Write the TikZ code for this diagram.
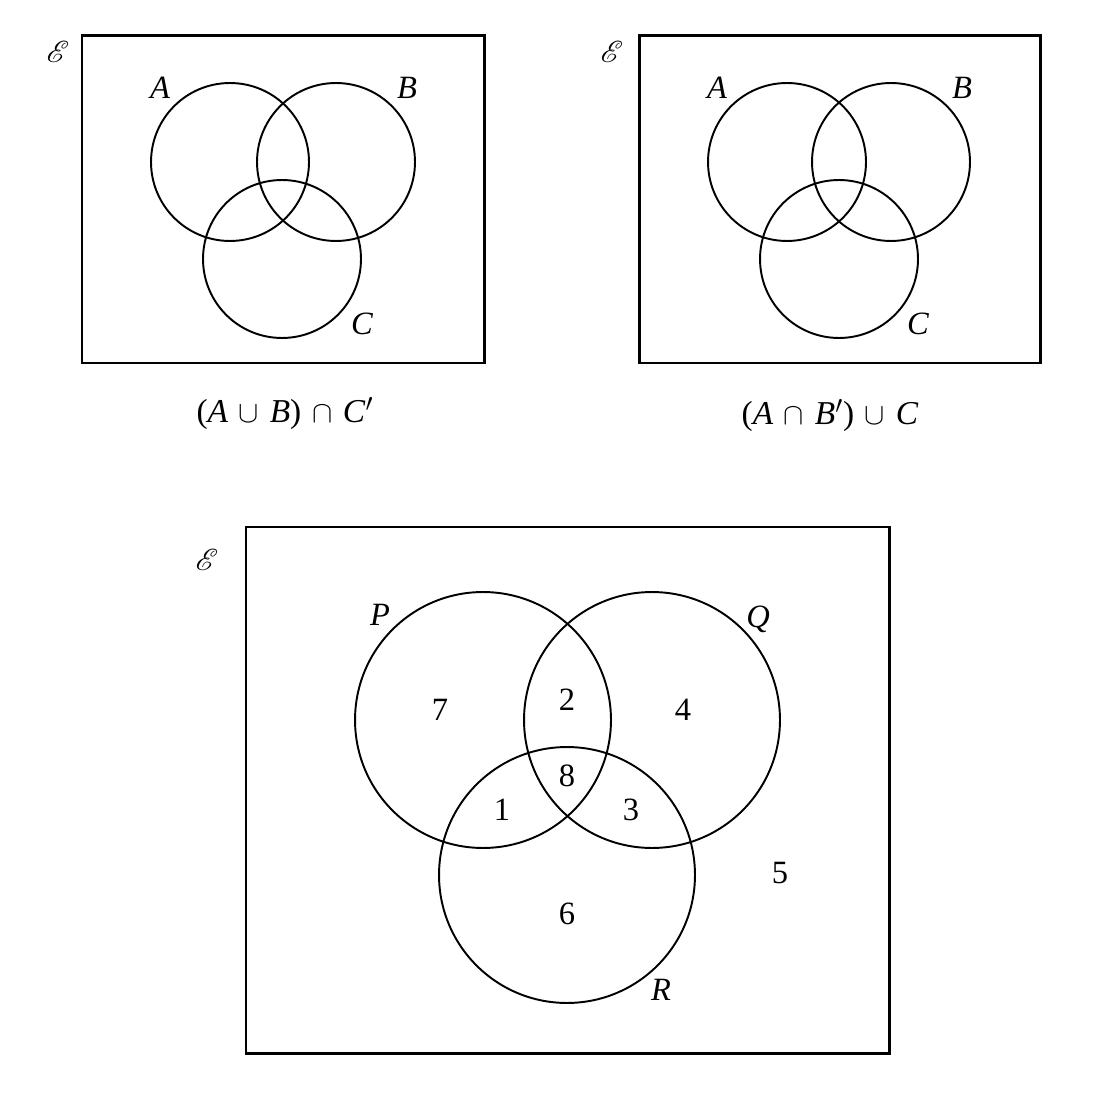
\documentclass[tikz,border=0pt]{standalone}
\usepackage{fontspec}
\usepackage{mathrsfs}
\setmainfont{Liberation Serif}
\usetikzlibrary{positioning}

\newcommand{\opgap}{\hspace{0.32em}}

\begin{document}
\begin{tikzpicture}[
	x=0.02cm, y=-0.02cm,
	frame/.style={
		draw=black,
		line width=1.7pt
	},
	setring/.style={
		draw=black,
		circle,
		line width=1.1pt,
		inner sep=0pt,
		minimum size=3.16cm
	},
	bigring/.style={
		setring,
		minimum size=5.12cm
	},
	setname/.style={
		font=\fontsize{18.5}{22}\selectfont\itshape,
		inner sep=0pt
	},
	region/.style={
		font=\fontsize{18.5}{22}\selectfont,
		inner sep=0pt
	},
	caption/.style={
		font=\fontsize{19}{22}\selectfont,
		inner sep=0pt
	},
	universe/.style={
		font=\fontsize{19}{22}\selectfont,
		inner sep=0pt
	}
]

\useasboundingbox (0,0) rectangle (1108,1097);

% first panel
\draw[frame] (82,36) rectangle (484,363);
\node[universe] (univL) at (58,52) {$\mathscr{E}$};
\node[setring] (ringAL) at (230,162) {};
\node[setring] (ringBL) at (336,162) {};
\node[setring] (ringCL) at (282,259) {};
\node[setname] (nameAL) at (160,88) {A};
\node[setname] (nameBL) at (407,88) {B};
\node[setname] (nameCL) at (362,324) {C};
\node[caption] (capL) at (285,414)
	{(\textit{A}\opgap$\cup$\opgap\textit{B})\opgap$\cap$\opgap\textit{C}$'$};

% second panel
\draw[frame] (639,36) rectangle (1040,363);
\node[universe] (univR) at (612,52) {$\mathscr{E}$};
\node[setring] (ringAR) at (787,162) {};
\node[setring] (ringBR) at (891,162) {};
\node[setring] (ringCR) at (839,259) {};
\node[setname] (nameAR) at (717,88) {A};
\node[setname] (nameBR) at (962,88) {B};
\node[setname] (nameCR) at (918,324) {C};
\node[caption] (capR) at (830,416)
	{(\textit{A}\opgap$\cap$\opgap\textit{B}$'$)\opgap$\cup$\opgap\textit{C}};

% numbered regions
\draw[frame] (246,527) rectangle (889,1053);
\node[universe] (univB) at (207,560) {$\mathscr{E}$};
\node[bigring] (ringP) at (483,720) {};
\node[bigring] (ringQ) at (652,720) {};
\node[bigring] (ringR) at (567,875) {};
\node[setname] (nameP) at (380,615) {P};
\node[setname] (nameQ) at (758,619) {Q};
\node[setname] (nameR) at (661,990) {R};

\node[region] (only7) at (440,710) {7};
\node[region] (pq2) at (567,700) {2};
\node[region] (only4) at (683,710) {4};
\node[region] (pqr8) at (567,776) {8};
\node[region] (pr1) at (502,810) {1};
\node[region] (qr3) at (631,810) {3};
\node[region] (only6) at (567,914) {6};
\node[region] (out5) at (780,873) {5};

\end{tikzpicture}
\end{document}
